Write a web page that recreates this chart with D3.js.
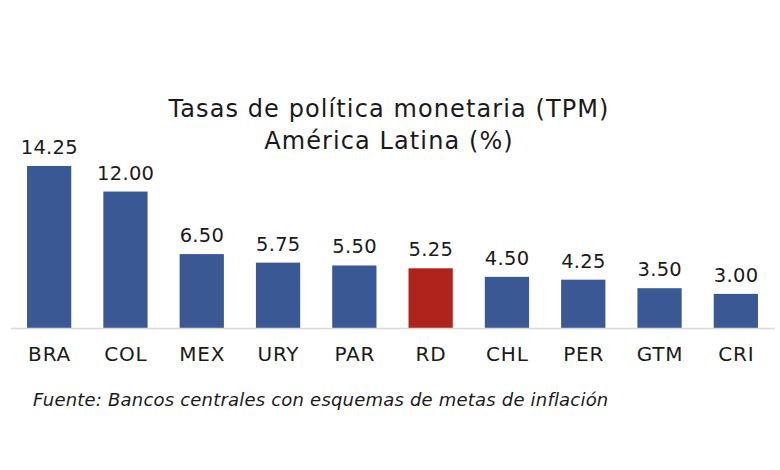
<!DOCTYPE html>
<html>
<head>
<meta charset="utf-8">
<script src="https://cdn.jsdelivr.net/npm/d3@7"></script>
<style>
  body { margin: 0; background: #fff; }
  text { font-family: "DejaVu Sans", sans-serif; fill: #1a1a1a; }
</style>
</head>
<body>
<div id="chart"></div>
<script>
var countries = ['BRA', 'COL', 'MEX', 'URY', 'PAR', 'RD', 'CHL', 'PER', 'GTM', 'CRI'];
var rates = [14.25, 12.00, 6.50, 5.75, 5.50, 5.25, 4.50, 4.25, 3.50, 3.00];
var titleLines = ['Tasas de política monetaria (TPM)', 'América Latina (%)'];
var source = 'Fuente: Bancos centrales con esquemas de metas de inflación';

draw_chart();
function draw_chart(){
    var width = 780, height = 470;
    var baseY = 328;

    var svg = d3.select('#chart')
      .append('svg')
      .attr('width', width)
      .attr('height', height);

    var x = d3.scaleBand()
              .domain(countries)
              .range([11, 774])
              .paddingInner(0.42)
              .paddingOuter(0.21);

    // 14.25 -> about 162px tall
    var y = d3.scaleLinear()
              .domain([0, 16])
              .range([baseY, baseY - 16 * 11.37]);

    svg.selectAll('rect.bar')
       .data(rates)
       .enter()
       .append('rect')
       .attr('class', 'bar')
       .attr('x', function(d, i){ return x(countries[i]); })
       .attr('y', function(d){ return y(d); })
       .attr('width', x.bandwidth())
       .attr('height', function(d){ return y(0) - y(d); })
       .attr('fill', function(d, i){ return countries[i] == 'RD' ? '#b0231c' : '#3a5894'; });

    // baseline
    svg.append('line')
       .attr('x1', 11).attr('x2', 775)
       .attr('y1', baseY + 0.5).attr('y2', baseY + 0.5)
       .attr('stroke', '#d9d9d9')
       .attr('stroke-width', 1.5);

    svg.selectAll('text.value')
       .data(rates)
       .enter()
       .append('text')
       .attr('class', 'value')
       .attr('x', function(d, i){ return x(countries[i]) + x.bandwidth() / 2 + 0.2; })
       .attr('y', function(d){ return y(d) - 12; })
       .attr('text-anchor', 'middle')
       .style('font-size', '19.5px')
       .style('letter-spacing', '0.3px')
       .text(function(d){ return d.toFixed(2); });

    var xAxis = svg.append('g')
       .attr('transform', 'translate(0,' + baseY + ')')
       .call(d3.axisBottom(x).tickSize(0).tickPadding(19));
    xAxis.select('.domain').remove();
    xAxis.selectAll('text')
         .style('font-size', '20px')
         .style('letter-spacing', '0.8px')
         .style('font-family', '"DejaVu Sans", sans-serif')
         .attr('dx', '0.4px')
         .attr('fill', '#1a1a1a');

    svg.selectAll('text.title')
       .data(titleLines)
       .enter()
       .append('text')
       .attr('class', 'title')
       .attr('x', 389)
       .attr('y', function(d, i){ return 117 + i * 32; })
       .attr('text-anchor', 'middle')
       .style('font-size', '24px')
       .style('letter-spacing', '1.1px')
       .text(function(d){ return d; });

    svg.append('text')
       .attr('x', 33)
       .attr('y', 406)
       .style('font-size', '18px')
       .style('letter-spacing', '0.2px')
       .style('font-style', 'italic')
       .text(source);
}
</script>
</body>
</html>
